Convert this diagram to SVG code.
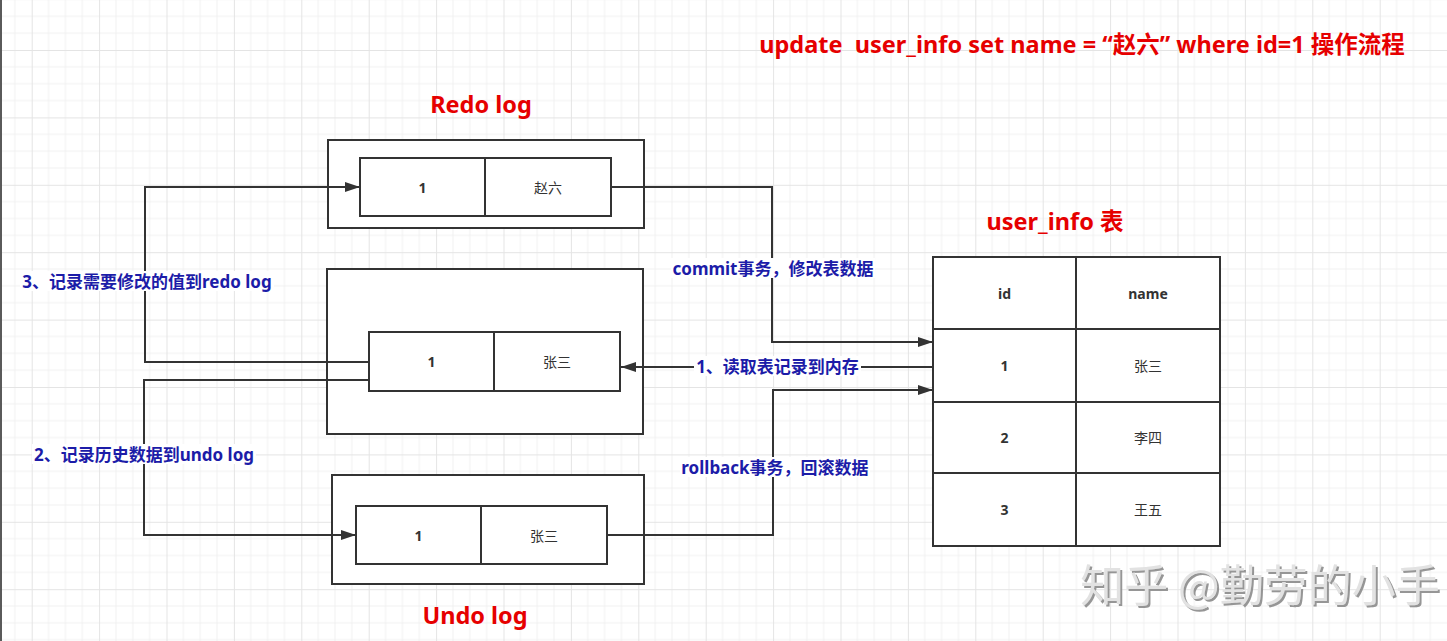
<svg xmlns="http://www.w3.org/2000/svg" width="1447" height="641" viewBox="0 0 1447 641">
<style>
.box{fill:#fff;stroke:#333;stroke-width:2}
.cell{fill:none;stroke:#333;stroke-width:2}
.conn{fill:none;stroke:#333;stroke-width:2}
.t{font-family:"Noto Sans","Noto Sans CJK SC",sans-serif;text-anchor:middle;dominant-baseline:central}
.red{fill:#e60000;font-weight:bold;font-size:23.5px}
.blue{fill:#1c1ca8;font-weight:bold;font-size:17px}
.num{fill:#333;font-weight:bold;font-size:14px}
.cn{fill:#333;font-size:14px}
.lbg{fill:#fff}
</style>
<defs>
<pattern id="grid" patternUnits="userSpaceOnUse" x="31.7" y="50" width="67.4" height="67.4">
<path d="M16.85 0V67.4M33.7 0V67.4M50.55 0V67.4M0 16.85H67.4M0 33.7H67.4M0 50.55H67.4" stroke="#f1f1f1" stroke-width="1" fill="none"/>
<path d="M0.5 0V67.4M0 0.5H67.4" stroke="#e4e4e4" stroke-width="1" fill="none"/>
</pattern>
<marker id="arr" markerUnits="userSpaceOnUse" markerWidth="16" markerHeight="10" refX="15" refY="5" orient="auto">
<path d="M0,0 L15,5 L0,10 z" fill="#333"/>
</marker>
<filter id="wm" x="-5%" y="-20%" width="110%" height="140%">
<feDropShadow dx="2" dy="2" stdDeviation="0.6" flood-color="#8a8a8a" flood-opacity="0.9"/>
</filter>
</defs>
<rect width="1447" height="641" fill="#fff"/>
<rect width="1447" height="641" fill="url(#grid)"/>
<rect x="0" y="0" width="2" height="641" fill="#5a5a5a"/>

<text class="t red" x="1082" y="44" xml:space="preserve">update  user_info set name = “赵六” where id=1 操作流程</text>

<g id="redo-log">
<text class="t red" x="481" y="104">Redo log</text>
<rect class="box" x="328" y="140" width="316" height="88"/>
<rect class="cell" x="360" y="158" width="251" height="58"/>
<line class="cell" x1="485" y1="158" x2="485" y2="216"/>
<text class="t num" x="422.5" y="187">1</text>
<text class="t cn" x="548" y="187">赵六</text>
</g>

<g id="memory">
<rect class="box" x="327" y="269" width="316" height="165"/>
<rect class="cell" x="369" y="332" width="251" height="59"/>
<line class="cell" x1="494" y1="332" x2="494" y2="391"/>
<text class="t num" x="431.5" y="361.5">1</text>
<text class="t cn" x="557" y="361.5">张三</text>
</g>

<g id="undo-log">
<rect class="box" x="332" y="475" width="312" height="109"/>
<rect class="cell" x="356" y="506" width="251" height="58"/>
<line class="cell" x1="481" y1="506" x2="481" y2="564"/>
<text class="t num" x="418.5" y="535">1</text>
<text class="t cn" x="544" y="535">张三</text>
<text class="t red" x="475" y="615">Undo log</text>
</g>

<g id="user-info">
<text class="t red" x="1055" y="221">user_info 表</text>
<rect class="box" x="933" y="257" width="287" height="289"/>
<line class="cell" x1="1076" y1="257" x2="1076" y2="546"/>
<line class="cell" x1="933" y1="329" x2="1220" y2="329"/>
<line class="cell" x1="933" y1="402" x2="1220" y2="402"/>
<line class="cell" x1="933" y1="473" x2="1220" y2="473"/>
<text class="t num" x="1004.5" y="293">id</text>
<text class="t num" x="1148" y="293">name</text>
<text class="t num" x="1004.5" y="365.5">1</text>
<text class="t cn" x="1148" y="365.5">张三</text>
<text class="t num" x="1004.5" y="437.5">2</text>
<text class="t cn" x="1148" y="437.5">李四</text>
<text class="t num" x="1004.5" y="509.5">3</text>
<text class="t cn" x="1148" y="509.5">王五</text>
</g>

<g id="connectors">
<path class="conn" d="M369,362 H145 V187 H360" marker-end="url(#arr)"/>
<path class="conn" d="M369,380 H144 V535 H356" marker-end="url(#arr)"/>
<path class="conn" d="M611,187 H772 V342 H933" marker-end="url(#arr)"/>
<path class="conn" d="M607,535 H773 V390 H933" marker-end="url(#arr)"/>
<path class="conn" d="M933,367 H621" marker-end="url(#arr)"/>
<rect class="lbg" x="20" y="271" width="254" height="20"/>
<text class="t blue" x="147" y="281">3、记录需要修改的值到redo log</text>
<rect class="lbg" x="32" y="444" width="224" height="20"/>
<text class="t blue" x="144" y="454">2、记录历史数据到undo log</text>
<rect class="lbg" x="671" y="258" width="204" height="20"/>
<text class="t blue" x="773" y="268">commit事务，修改表数据</text>
<rect class="lbg" x="694" y="356" width="167" height="20"/>
<text class="t blue" x="777.5" y="366">1、读取表记录到内存</text>
<rect class="lbg" x="680" y="457" width="190" height="20"/>
<text class="t blue" x="775" y="467">rollback事务，回滚数据</text>
</g>

<text x="1260" y="602" text-anchor="middle" filter="url(#wm)" style="font-family:'Noto Sans CJK SC','Noto Sans',sans-serif;font-size:44px;fill:#e2e2e2">知乎 @勤劳的小手</text>
</svg>
